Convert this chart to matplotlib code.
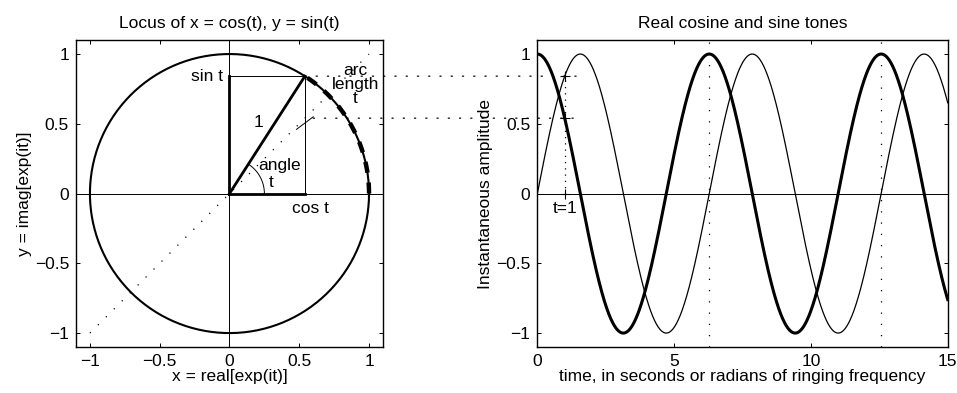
import numpy as np
import matplotlib
matplotlib.use("Agg")
import matplotlib.pyplot as plt
from matplotlib.patches import ConnectionPatch

plt.rcParams["font.family"] = ["Liberation Sans", "DejaVu Sans"]
plt.rcParams["font.size"] = 12.5

# the instant that is marked on both panels
t_mark = 1.0
t_end = 15.0
arc_radius = 0.25
label_pointer = [(0.48, 0.46), (0.6, 0.55)]
period_marks = [2 * np.pi, 4 * np.pi]

xticks_circle = [-1, -0.5, 0, 0.5, 1]
yticks = [-1, -0.5, 0, 0.5, 1]
xticks_time = [0, 5, 10, 15]
tick_text = ["\u22121", "\u22120.5", "0", "0.5", "1"]

DOT = (0, (1, 8))

fig = plt.figure(figsize=(9.57, 3.93), dpi=100)
ax1 = fig.add_axes([0.0794, 0.117, 0.3208, 0.781])
ax2 = fig.add_axes([0.5615, 0.117, 0.4288, 0.781])

c, s = np.cos(t_mark), np.sin(t_mark)

# --- unit circle ---
th = np.linspace(0, 2 * np.pi, 400)
ax1.plot(np.cos(th), np.sin(th), color="k", lw=1.5)
ax1.axhline(0, color="k", lw=0.7)
ax1.axvline(0, color="k", lw=0.7)
ax1.plot([-1, 1], [-1, 1], color="k", lw=0.9, linestyle=DOT)

# rectangle and the projections
ax1.plot([0, c, c], [s, s, 0], color="k", lw=0.7)
ax1.plot([0, 0], [0, s], color="k", lw=2)
ax1.plot([0, c], [0, 0], color="k", lw=2)
ax1.plot([0, c], [0, s], color="k", lw=2)

# angle and arc length
ta = np.linspace(0, t_mark, 60)
ax1.plot(arc_radius * np.cos(ta), arc_radius * np.sin(ta), color="k", lw=0.7)
ax1.plot(np.cos(ta), np.sin(ta), color="k", lw=3.2, dashes=(2.5, 2.2))
ax1.plot(*zip(*label_pointer), color="k", lw=0.7)

ax1.text(-0.05, s, "sin t", ha="right", va="center")
ax1.text(0.21, 0.51, "1", ha="center", va="center")
ax1.text(0.36, 0.2, "angle", ha="center", va="center")
ax1.text(0.3, 0.08, "t", ha="center", va="center")
ax1.text(0.58, -0.11, "cos t", ha="center", va="center")
ax1.text(0.9, 0.78, "arc\nlength\nt", ha="center", va="center",
         linespacing=0.92)

ax1.set_xlim(-1.1, 1.1)
ax1.set_ylim(-1.1, 1.1)
ax1.set_xticks(xticks_circle)
ax1.set_xticklabels(tick_text)
ax1.set_yticks(yticks)
ax1.set_yticklabels(tick_text)
ax1.set_title("Locus of x = cos(t), y = sin(t)", fontsize=12.5, pad=9)
ax1.set_xlabel("x = real[exp(it)]", labelpad=0)
ax1.set_ylabel("y = imag[exp(it)]", labelpad=2)

# --- time waveforms ---
t = np.linspace(0, t_end, 1500)
ax2.plot(t, np.cos(t), color="k", lw=2.2)
ax2.plot(t, np.sin(t), color="k", lw=0.9)
ax2.axhline(0, color="k", lw=0.7)
for tp in period_marks:
    ax2.axvline(tp, color="k", lw=0.9, linestyle=DOT)
ax2.plot([t_mark, t_mark], [0, s], color="k", lw=0.9, linestyle=(0, (1, 4)))
ax2.plot([t_mark] * 3, [0, c, s], "k+", ms=6.5, mew=0.8)
ax2.text(t_mark, -0.11, "t=1", ha="center", va="center")

ax2.set_xlim(0, t_end)
ax2.set_ylim(-1.1, 1.1)
ax2.set_xticks(xticks_time)
ax2.set_yticks(yticks)
ax2.set_yticklabels(tick_text)
ax2.set_title("Real cosine and sine tones", fontsize=12.5, pad=9)
ax2.set_xlabel("time, in seconds or radians of ringing frequency", labelpad=0)
ax2.set_ylabel("Instantaneous amplitude", labelpad=2)

for ax in (ax1, ax2):
    ax.tick_params(direction="in", top=True, right=True, length=3,
                   width=0.7, pad=5)
    for sp in ax.spines.values():
        sp.set_linewidth(1.0)

# dotted guides from the circle over to the waveforms
for (x0, y0) in [(c, s), (0.6, c)]:
    con = ConnectionPatch(xyA=(x0, y0), coordsA=ax1.transData,
                          xyB=(1.62, y0), coordsB=ax2.transData,
                          color="k", lw=0.9, linestyle=DOT)
    fig.add_artist(con)

fig.savefig("out.png", dpi=100)
